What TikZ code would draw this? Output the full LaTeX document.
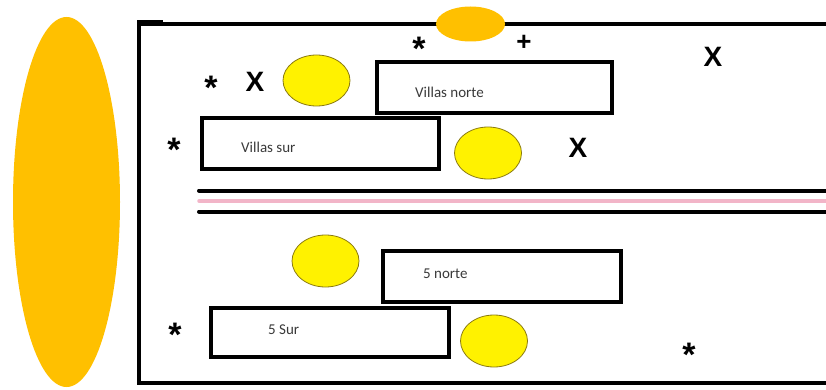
\documentclass[tikz,border=0pt]{standalone}
\usepackage{fontspec}
\setmainfont{Carlito}
\newfontfamily\symfont{Liberation Sans}
\definecolor{orangeY}{HTML}{FFC000}
\definecolor{yel}{HTML}{FFF200}
\definecolor{yelline}{HTML}{8A7A10}
\definecolor{pinkline}{HTML}{F2B5C8}
\definecolor{labelgray}{HTML}{3A3A3A}
\tikzset{
  frame/.style={line width=4pt, black},
  lot/.style={line width=4pt, black, line join=miter},
  road/.style={line width=4pt, black, line cap=round},
  pinkroad/.style={line width=3.5pt, pinkline, line cap=round},
  pond/.style={fill=yel, draw=yelline, line width=0.8pt},
  sun/.style={fill=orangeY, draw=none},
  lbl/.style={font=\fontsize{15}{18}\selectfont, text=labelgray, inner sep=0pt, anchor=west},
  symx/.style={font=\symfont\bfseries\fontsize{28}{30}\selectfont, inner sep=0pt, anchor=center},
  symast/.style={font=\symfont\bfseries\fontsize{34}{36}\selectfont, inner sep=0pt, anchor=base},
  symplus/.style={font=\symfont\bfseries\fontsize{26}{28}\selectfont, inner sep=0pt, anchor=base}
}
\begin{document}
\begin{tikzpicture}[x=1pt,y=-1pt]
\useasboundingbox (0,0) rectangle (826,390);
\fill[white] (0,0) rectangle (826,390);
% big orange ellipse
\fill[sun] (66.5,202) ellipse [x radius=53.5, y radius=185];
% frame
\draw[frame] (826,24) -- (139,24) -- (139,382.5) -- (826,382.5);
\fill[black] (137,20) rectangle (163,26);
% top orange ellipse
\fill[sun] (470.5,24) ellipse [x radius=34.5, y radius=17.5];
% roads
\draw[road] (199,190.5) -- (830,190.5);
\draw[pinkroad] (199,201) -- (830,201);
\draw[road] (199,211.5) -- (830,211.5);
% lots
\draw[lot] (376.5,62.5) rectangle (611.5,113.5);
\draw[lot] (202,118.5) rectangle (439,169);
\draw[lot] (383,250.5) rectangle (620.5,302);
\draw[lot] (210.5,307.5) rectangle (448.5,357);
% labels
\node[lbl] (vn) at (415,92) {Villas norte};
\node[lbl] (vs) at (241,147.5) {Villas sur};
\node[lbl] (cn) at (423,273.5) {5 norte};
\node[lbl] (cs) at (268,329.5) {5 Sur};
% ponds
\draw[pond] (316.5,80.5) ellipse [x radius=33.5, y radius=25.5];
\draw[pond] (488,153) ellipse [x radius=33.5, y radius=26];
\draw[pond] (325.5,261) ellipse [x radius=33.5, y radius=26];
\draw[pond] (494,341) ellipse [x radius=33.5, y radius=26];
% symbols
\node[symx] (x1) at (255,82) {X};
\node[symx] (x2) at (578,148) {X};
\node[symx] (x3) at (713,57) {X};
\node[symast] (a1) at (419,61) {*};
\node[symast] (a2) at (211,100) {*};
\node[symast] (a3) at (174,161) {*};
\node[symast] (a4) at (175,346) {*};
\node[symast] (a5) at (689,366) {*};
\node[symplus] (p1) at (524,51) {+};
\end{tikzpicture}
\end{document}
